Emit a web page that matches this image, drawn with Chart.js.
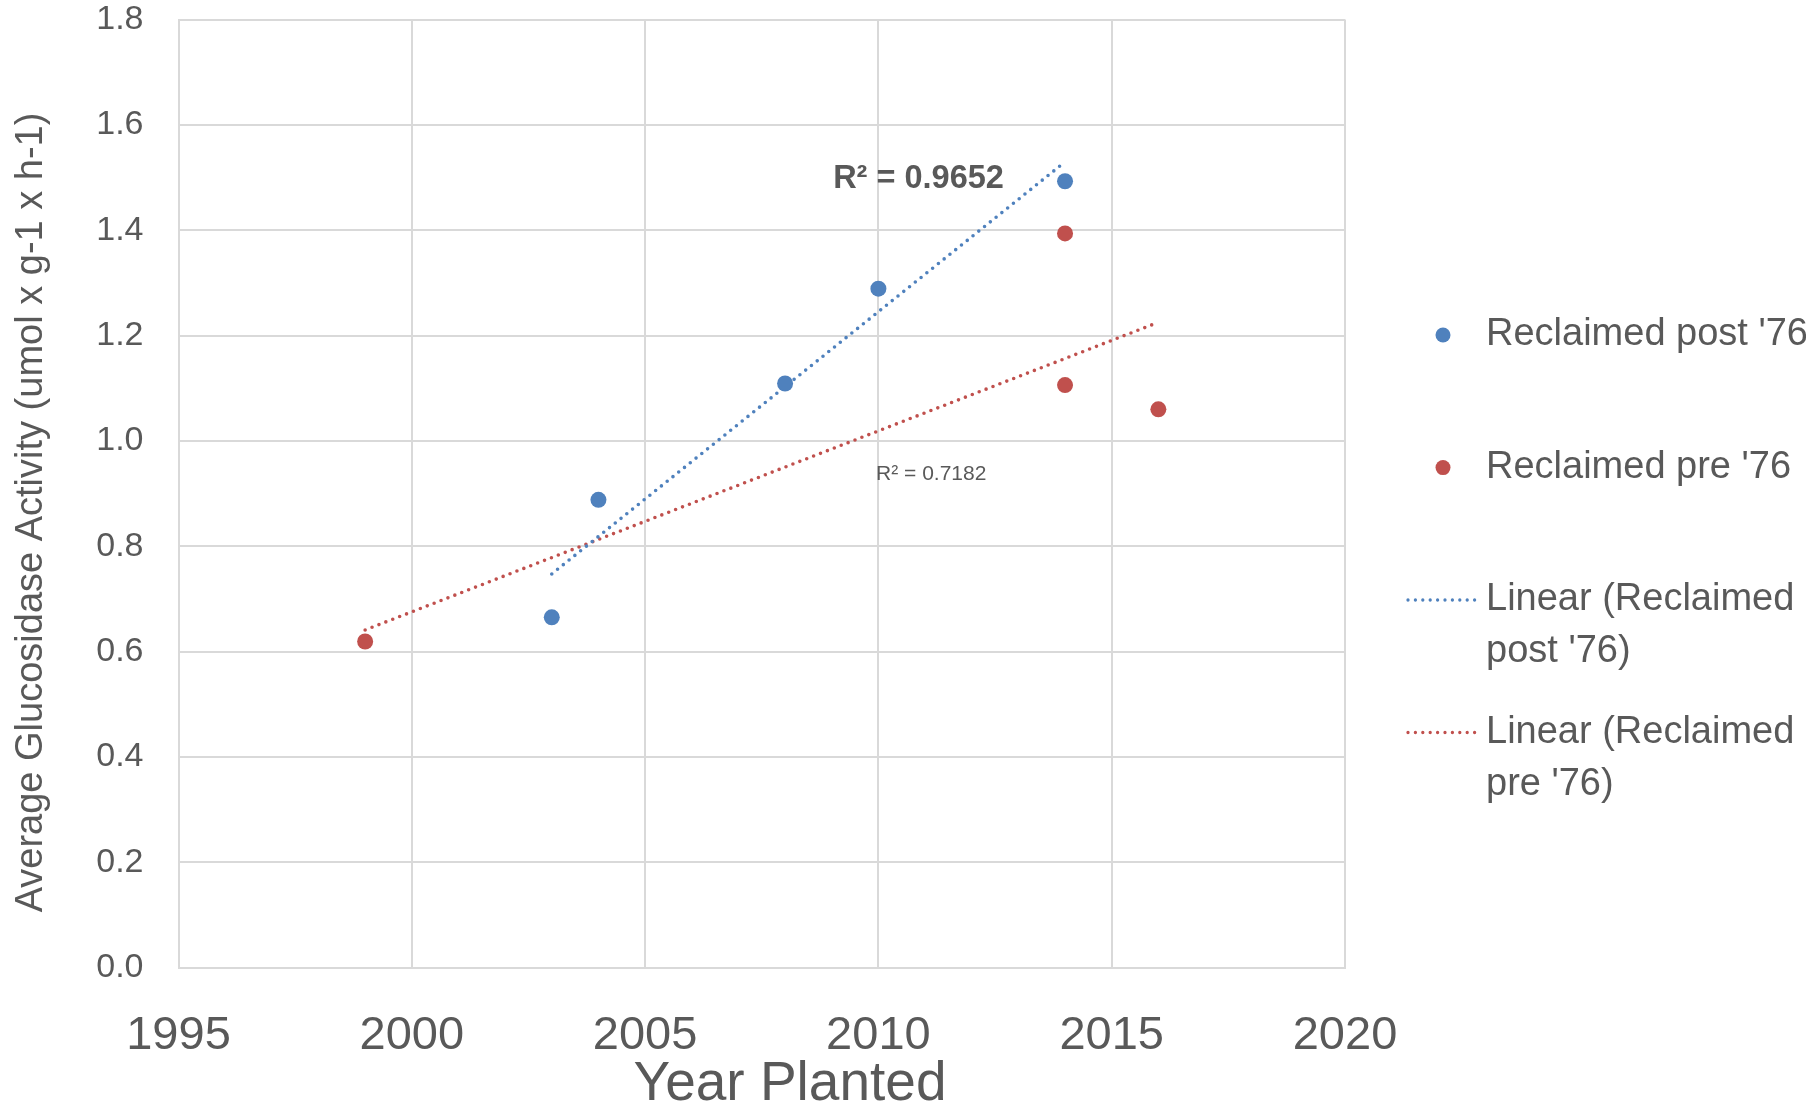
<!DOCTYPE html>
<html>
<head>
<meta charset="utf-8">
<script src="https://cdn.jsdelivr.net/npm/chart.js@4.4.0/dist/chart.umd.min.js"></script>
<style>
  html, body { margin: 0; padding: 0; background: #ffffff; overflow: hidden; }
  #wrap { width: 1806px; height: 1107px; position: relative; }
</style>
</head>
<body>
<div id="wrap"><canvas id="c" width="1806" height="1107"></canvas></div>
<script>
// Glucosidase activity by planting year, two reclamation groups
const postYears  = [2003, 2004, 2008, 2010, 2014];
const postValues = [0.665, 0.888, 1.109, 1.289, 1.493];
const preYears   = [1999, 2014, 2014, 2016];
const preValues  = [0.619, 1.394, 1.106, 1.060];

const xTickValues = [1995, 2000, 2005, 2010, 2015, 2020];
const yTickValues = [0.0, 0.2, 0.4, 0.6, 0.8, 1.0, 1.2, 1.4, 1.6, 1.8];

const seriesNames = ["Reclaimed post '76", "Reclaimed pre '76"];
const trendNames  = [["Linear (Reclaimed", "post '76)"], ["Linear (Reclaimed", "pre '76)"]];
const r2Texts     = ["R\u00B2 = 0.9652", "R\u00B2 = 0.7182"];

const xTitle = 'Year Planted';
const yTitle = 'Average Glucosidase Activity (umol x g-1 x h-1)';

const BLUE = '#4F81BD';
const RED = '#C0504D';
const TEXT = '#595959';
const GRID = '#D9D9D9';
const FONT = "'Liberation Sans', Arial, sans-serif";

// least-squares line over the span of a series
function linearFit(xs, ys) {
  const n = xs.length;
  const mx = xs.reduce((a, b) => a + b, 0) / n;
  const my = ys.reduce((a, b) => a + b, 0) / n;
  let sxy = 0, sxx = 0;
  for (let i = 0; i < n; i++) { sxy += (xs[i] - mx) * (ys[i] - my); sxx += (xs[i] - mx) ** 2; }
  const slope = sxy / sxx, icpt = my - slope * mx;
  const x0 = Math.min(...xs), x1 = Math.max(...xs);
  return [{ x: x0, y: icpt + slope * x0 }, { x: x1, y: icpt + slope * x1 }];
}

const toPoints = (xs, ys) => xs.map((x, i) => ({ x, y: ys[i] }));

const DOT_DASH = [0, 7.4];
const DOT_WIDTH = 3.6;
const MARKER_R = 8;

const chartDecor = {
  id: 'chartDecor',
  afterDraw(chart) {
    const ctx = chart.ctx;
    const xs = chart.scales.x, ys = chart.scales.y;
    ctx.save();
    ctx.fillStyle = TEXT;

    // axis titles
    ctx.save();
    ctx.translate(31.5, 512.5);
    ctx.rotate(-Math.PI / 2);
    ctx.font = '38px ' + FONT;
    ctx.textAlign = 'center';
    ctx.textBaseline = 'middle';
    ctx.fillText(yTitle, 0, 0);
    ctx.restore();

    ctx.font = '55px ' + FONT;
    ctx.textAlign = 'center';
    ctx.textBaseline = 'alphabetic';
    ctx.fillText(xTitle, 790, 1100);

    // R² labels beside the trend lines
    ctx.textAlign = 'left';
    ctx.textBaseline = 'middle';
    ctx.font = 'bold 32.5px ' + FONT;
    ctx.fillText(r2Texts[0], xs.getPixelForValue(2009.03), ys.getPixelForValue(1.497));
    ctx.font = '21px ' + FONT;
    ctx.fillText(r2Texts[1], xs.getPixelForValue(2009.95), ys.getPixelForValue(0.936));

    // legend
    const colors = [BLUE, RED];
    const markerY = [335, 467.6];
    const lineY = [600, 732.5];
    ctx.font = '38px ' + FONT;
    ctx.textBaseline = 'middle';
    for (let i = 0; i < 2; i++) {
      ctx.beginPath();
      ctx.arc(1443, markerY[i], 7.5, 0, Math.PI * 2);
      ctx.fillStyle = colors[i];
      ctx.fill();
      ctx.fillStyle = TEXT;
      ctx.fillText(seriesNames[i], 1486, markerY[i]);
    }
    for (let i = 0; i < 2; i++) {
      ctx.save();
      ctx.strokeStyle = colors[i];
      ctx.lineWidth = 3.3;
      ctx.lineCap = 'round';
      ctx.setLineDash(DOT_DASH);
      ctx.beginPath();
      ctx.moveTo(1408, lineY[i]);
      ctx.lineTo(1476, lineY[i]);
      ctx.stroke();
      ctx.restore();
      ctx.fillStyle = TEXT;
      ctx.fillText(trendNames[i][0], 1486, lineY[i]);
      ctx.fillText(trendNames[i][1], 1486, lineY[i] + 52);
    }
    ctx.restore();
  }
};

new Chart(document.getElementById('c'), {
  type: 'scatter',
  data: {
    datasets: [
      {
        label: seriesNames[0],
        data: toPoints(postYears, postValues),
        backgroundColor: BLUE, borderColor: BLUE,
        pointRadius: MARKER_R, pointBorderWidth: 0, order: 0
      },
      {
        label: seriesNames[1],
        data: toPoints(preYears, preValues),
        backgroundColor: RED, borderColor: RED,
        pointRadius: MARKER_R, pointBorderWidth: 0, order: 1
      },
      {
        label: trendNames[0].join(' '),
        data: linearFit(postYears, postValues),
        showLine: true, pointRadius: 0,
        borderColor: BLUE, borderWidth: DOT_WIDTH, borderDash: DOT_DASH,
        borderCapStyle: 'round', order: 2
      },
      {
        label: trendNames[1].join(' '),
        data: linearFit(preYears, preValues),
        showLine: true, pointRadius: 0,
        borderColor: RED, borderWidth: DOT_WIDTH, borderDash: DOT_DASH,
        borderCapStyle: 'round', order: 3
      }
    ]
  },
  options: {
    responsive: false,
    animation: false,
    devicePixelRatio: 1,
    layout: { padding: { left: 0, right: 461, top: 19.6, bottom: 0 } },
    plugins: { legend: { display: false }, tooltip: { enabled: false } },
    scales: {
      x: {
        type: 'linear', min: 1995, max: 2020,
        afterBuildTicks: s => { s.ticks = xTickValues.map(v => ({ value: v })); },
        afterFit: s => { s.height = 139.5; s.paddingLeft = 0; s.paddingRight = 0; },
        grid: { color: GRID, lineWidth: 2, drawTicks: false },
        border: { display: true, color: GRID, width: 2 },
        ticks: { font: { family: FONT, size: 47 }, color: TEXT, padding: 40, maxRotation: 0,
                 callback: v => String(v) }
      },
      y: {
        type: 'linear', min: 0, max: 1.8,
        afterBuildTicks: s => { s.ticks = yTickValues.map(v => ({ value: v })); },
        afterFit: s => { s.width = 178.5; s.paddingTop = 0; s.paddingBottom = 0; },
        grid: { color: GRID, lineWidth: 2, drawTicks: false },
        border: { display: true, color: GRID, width: 2 },
        ticks: { font: { family: FONT, size: 34 }, color: TEXT, padding: 35,
                 callback: v => Number(v).toFixed(1) }
      }
    }
  },
  plugins: [chartDecor]
});
</script>
</body>
</html>
